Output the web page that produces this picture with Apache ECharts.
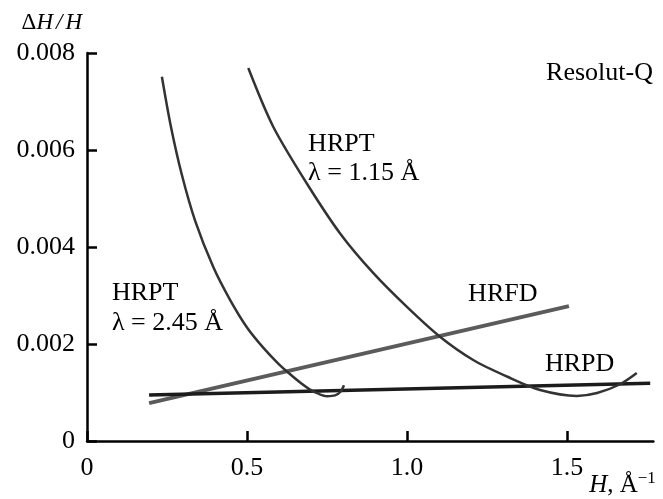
<!DOCTYPE html>
<html>
<head>
<meta charset="utf-8">
<script src="https://cdn.jsdelivr.net/npm/echarts@6/dist/echarts.min.js"></script>
<style>
  html, body { margin: 0; padding: 0; background: #fff; }
  #chart { width: 663px; height: 499px; }
</style>
</head>
<body>
<div id="chart"></div>
<script>
// Resolution curves ΔH/H versus H for several powder diffractometers.
const hrpt245 = [
  [0.234, 0.00751], [0.262, 0.00649], [0.296, 0.00550], [0.338, 0.00454],
  [0.395, 0.00358], [0.447, 0.00291], [0.500, 0.00234], [0.550, 0.00193],
  [0.600, 0.00158], [0.634, 0.00138], [0.667, 0.00120], [0.697, 0.00106],
  [0.725, 0.00097], [0.750, 0.000925], [0.775, 0.00094], [0.793, 0.00102],
  [0.803, 0.00115]
];
const hrpt115 = [
  [0.504, 0.00769], [0.582, 0.00648], [0.687, 0.00531], [0.791, 0.00428],
  [0.895, 0.00346], [0.999, 0.00277], [1.103, 0.00215], [1.207, 0.00167],
  [1.312, 0.00133], [1.416, 0.00105], [1.531, 0.00093], [1.594, 0.00099],
  [1.666, 0.00117], [1.718, 0.00140]
];
const hrfd = [[0.194, 0.00078], [1.506, 0.00278]];
const hrpd = [[0.194, 0.00095], [1.760, 0.00119]];

const xTicks = [0, 0.5, 1.0, 1.5];
const xTickLabels = ['0', '0.5', '1.0', '1.5'];
const yTicks = [0, 0.002, 0.004, 0.006, 0.008];
const yTickLabels = ['0', '0.002', '0.004', '0.006', '0.008'];

// Curve captions, anchored at their left edge in data coordinates.
const captions = [
  { text: 'HRPT', at: [0.691, 0.00612] },
  { text: 'λ = 1.15 Å', at: [0.691, 0.00553] },
  { text: 'HRPT', at: [0.078, 0.00305] },
  { text: 'λ = 2.45 Å', at: [0.078, 0.00243] },
  { text: 'HRFD', at: [1.191, 0.00303] },
  { text: 'HRPD', at: [1.431, 0.00159] }
];

const serif = '"Liberation Serif", "Times New Roman", serif';
const ink = '#000';
const chart = echarts.init(document.getElementById('chart'), null, { renderer: 'canvas' });

chart.setOption({
  animation: false,
  backgroundColor: '#ffffff',
  grid: { left: 87, top: 53, width: 566.4, height: 388, containLabel: false },
  xAxis: {
    type: 'value', min: 0, max: 1.77,
    splitLine: { show: false },
    axisLine: { lineStyle: { color: '#000', width: 2.5 } },
    axisTick: { inside: true, length: 10, customValues: xTicks, lineStyle: { color: '#000', width: 2.5 } },
    axisLabel: {
      customValues: xTicks, margin: 14,
      formatter: v => xTickLabels[xTicks.indexOf(v)] ?? '',
      color: ink, fontFamily: serif, fontSize: 26
    },
    name: '{i|H}{t|, Å}{s|−1}',
    nameLocation: 'end', nameGap: -1,
    nameTextStyle: {
      align: 'right', verticalAlign: 'top', padding: [29, 0, 0, 0],
      color: ink, fontFamily: serif, fontSize: 24,
      rich: {
        i: { fontStyle: 'italic', fontFamily: serif, fontSize: 25, color: ink, lineHeight: 28, verticalAlign: 'bottom' },
        t: { fontFamily: serif, fontSize: 25, color: ink, lineHeight: 28, verticalAlign: 'bottom' },
        s: { fontFamily: serif, fontSize: 17, color: ink, lineHeight: 17, verticalAlign: 'top' }
      }
    }
  },
  yAxis: {
    type: 'value', min: 0, max: 0.008, interval: 0.002,
    splitLine: { show: false },
    axisLine: { lineStyle: { color: '#000', width: 2.5 } },
    axisTick: { inside: true, length: 10, lineStyle: { color: '#000', width: 2.5 } },
    axisLabel: {
      margin: 12,
      formatter: v => yTickLabels[yTicks.findIndex(t => Math.abs(t - v) < 1e-9)] ?? '',
      color: ink, fontFamily: serif, fontSize: 26
    },
    name: 'Δ{i|H}{t|/}{i|H}',
    nameLocation: 'end', nameGap: 30,
    nameTextStyle: {
      align: 'right', verticalAlign: 'middle', padding: [0, 5, 0, 0],
      color: ink, fontFamily: serif, fontSize: 23,
      rich: {
        i: { fontStyle: 'italic', fontFamily: serif, fontSize: 23, color: ink },
        t: { fontStyle: 'italic', fontFamily: serif, fontSize: 23, color: ink, padding: [0, 3, 0, 3] }
      }
    }
  },
  series: [
    {
      name: 'HRFD', type: 'line', data: hrfd, showSymbol: false, silent: true,
      lineStyle: { color: '#5b5b5b', width: 4 }, z: 2
    },
    {
      name: 'HRPD', type: 'line', data: hrpd, showSymbol: false, silent: true,
      lineStyle: { color: '#1c1c1c', width: 3.5 }, z: 3
    },
    {
      name: 'HRPT 2.45', type: 'line', data: hrpt245, smooth: 0.3, showSymbol: false, silent: true,
      lineStyle: { color: '#333', width: 2.5 }, z: 4
    },
    {
      name: 'HRPT 1.15', type: 'line', data: hrpt115, smooth: 0.3, showSymbol: false, silent: true,
      lineStyle: { color: '#333', width: 2.5 }, z: 4
    }
  ]
});

// Captions and the instrument name, placed through the grid's own scales.
const textFont = '26px ' + serif;
const graphics = captions.map(c => {
  const p = chart.convertToPixel({ gridIndex: 0 }, c.at);
  return {
    type: 'text', x: p[0], y: p[1], silent: true,
    style: { text: c.text, fill: ink, font: textFont, align: 'left', verticalAlign: 'middle' }
  };
});
graphics.push({
  type: 'text', right: 10, top: 60, silent: true,
  style: { text: 'Resolut-Q', fill: ink, font: textFont }
});
chart.setOption({ graphic: graphics });
</script>
</body>
</html>
